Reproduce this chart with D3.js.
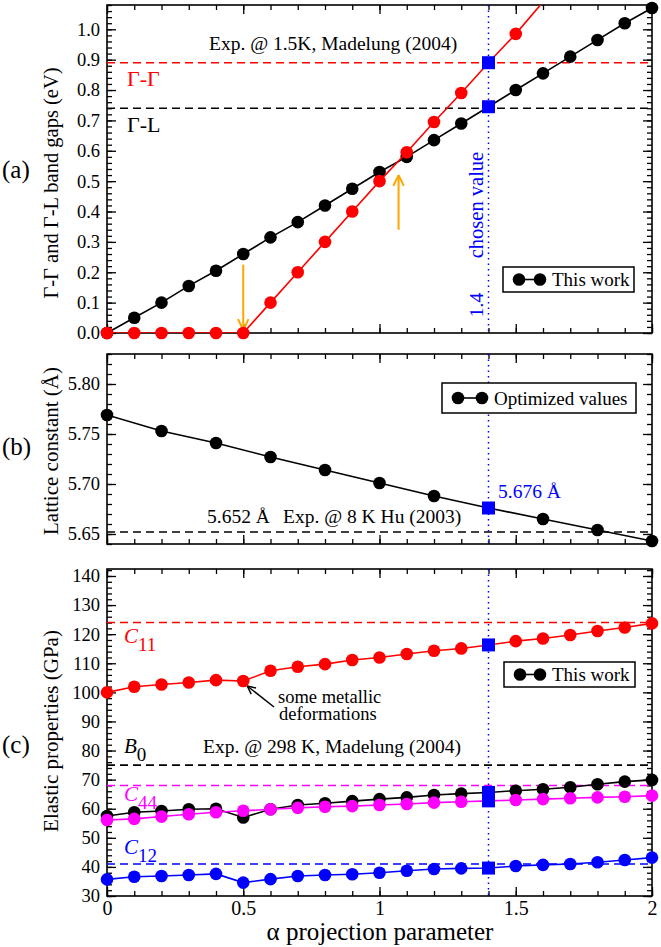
<!DOCTYPE html>
<html>
<head>
<meta charset="utf-8">
<script src="https://cdn.jsdelivr.net/npm/d3@7"></script>
<style>
  body { margin: 0; background: #fff; }
  svg { display: block; font-family: "Liberation Serif", "Times New Roman", serif; }
</style>
</head>
<body>
<svg id="chart" width="661" height="947"></svg>
<script>
// alpha grid shared by the three panels
const alpha = [0, 0.1, 0.2, 0.3, 0.4, 0.5, 0.6, 0.7, 0.8, 0.9, 1.0,
               1.1, 1.2, 1.3, 1.4, 1.5, 1.6, 1.7, 1.8, 1.9, 2.0];
const chosenAlpha = 1.4;

// (a) band gaps (eV)
const gapGL = [0.0, 0.05, 0.10, 0.155, 0.205, 0.26, 0.315, 0.365, 0.42, 0.475, 0.53,
               0.58, 0.635, 0.69, 0.745, 0.80, 0.855, 0.91, 0.965, 1.02, 1.07];
const gapGG = [0, 0, 0, 0, 0, 0, 0.10, 0.20, 0.30, 0.40, 0.50,
               0.595, 0.695, 0.79, 0.89, 0.985, 1.09];
const expGG = 0.89, expGL = 0.74;

// (b) lattice constant (Å)
const latAlpha = [0, 0.2, 0.4, 0.6, 0.8, 1.0, 1.2, 1.4, 1.6, 1.8, 2.0];
const lattice = [5.769, 5.753, 5.741, 5.727, 5.714, 5.701, 5.688, 5.676, 5.665, 5.654, 5.643];
const expLattice = 5.652;

// (c) elastic properties (GPa)
const c11 = [100.0, 101.9, 102.7, 103.4, 104.2, 103.9, 107.4, 108.8, 109.7, 111.1, 112.0,
             113.2, 114.3, 115.1, 116.3, 117.6, 118.5, 119.7, 121.1, 122.3, 123.7];
const b0  = [57.5, 58.8, 59.2, 59.8, 60.0, 57.0, 59.8, 61.3, 61.9, 62.6, 63.3,
             63.9, 64.7, 65.2, 65.6, 66.2, 66.7, 67.4, 68.4, 69.3, 69.9];
const c44 = [56.1, 56.5, 57.3, 58.1, 58.8, 59.3, 59.8, 60.3, 60.7, 60.9, 61.3,
             61.6, 62.1, 62.4, 62.7, 63.0, 63.3, 63.6, 63.9, 64.1, 64.5];
const c12 = [35.7, 36.6, 36.9, 37.2, 37.6, 34.6, 35.8, 36.9, 37.2, 37.5, 38.0,
             38.7, 39.3, 39.5, 39.6, 40.3, 40.7, 41.0, 41.6, 42.4, 43.2];
const expC11 = 124, expB0 = 75, expC44 = 68, expC12 = 41;

const xMajor = [0, 0.5, 1, 1.5, 2];
const xMinor = alpha;

const RED = "#ff0000", BLUE = "#0000ff", MAG = "#ff00ff", ORANGE = "#ffa500";

const svg = d3.select("#chart");
const x = d3.scaleLinear().domain([0, 2]).range([107, 652]);

const panels = [
  { id: "a", top: 5, bottom: 333, domain: [0, 1.08],
    major: [0, 0.1, 0.2, 0.3, 0.4, 0.5, 0.6, 0.7, 0.8, 0.9, 1.0], minorStep: 0.02, fmt: d3.format(".1f") },
  { id: "b", top: 354, bottom: 544, domain: [5.64, 5.83],
    major: [5.65, 5.70, 5.75, 5.80], minorStep: 0.01, fmt: d3.format(".2f") },
  { id: "c", top: 569, bottom: 896, domain: [30, 142.4],
    major: [30, 40, 50, 60, 70, 80, 90, 100, 110, 120, 130, 140], minorStep: 2, fmt: d3.format("d") }
];

function minorTicks(domain, step) {
  const out = [];
  const n = Math.floor((domain[1] - domain[0]) / step + 1e-6);
  const start = Math.ceil(domain[0] / step - 1e-6) * step;
  for (let i = 0; i <= n; i++) {
    const v = +(start + i * step).toFixed(4);
    if (v <= domain[1] + 1e-9) out.push(v);
  }
  return out;
}

function drawFrame(p, showXLabels) {
  const y = d3.scaleLinear().domain(p.domain).range([p.bottom, p.top]);
  p.y = y;
  const g = svg.append("g").attr("class", "frame-" + p.id);
  const minor = minorTicks(p.domain, p.minorStep);

  const styleAxis = sel => {
    sel.select(".domain").remove();
    sel.selectAll("line").attr("stroke", "#000").attr("stroke-width", 1.3);
    sel.selectAll("text").attr("font-family", "Liberation Serif, serif").attr("fill", "#000");
  };

  // left
  g.append("g").attr("transform", `translate(${x.range()[0]},0)`)
    .call(d3.axisLeft(y).tickValues(p.major).tickSize(-9).tickPadding(7).tickFormat(p.fmt))
    .call(styleAxis).selectAll("text").attr("font-size", 18.5);
  g.append("g").attr("transform", `translate(${x.range()[0]},0)`)
    .call(d3.axisLeft(y).tickValues(minor).tickSize(-5).tickFormat(""))
    .call(styleAxis);
  // right
  g.append("g").attr("transform", `translate(${x.range()[1]},0)`)
    .call(d3.axisRight(y).tickValues(p.major).tickSize(-9).tickFormat(""))
    .call(styleAxis);
  g.append("g").attr("transform", `translate(${x.range()[1]},0)`)
    .call(d3.axisRight(y).tickValues(minor).tickSize(-5).tickFormat(""))
    .call(styleAxis);
  // top
  g.append("g").attr("transform", `translate(0,${p.top})`)
    .call(d3.axisTop(x).tickValues(xMajor).tickSize(-9).tickFormat(""))
    .call(styleAxis);
  g.append("g").attr("transform", `translate(0,${p.top})`)
    .call(d3.axisTop(x).tickValues(xMinor).tickSize(-5).tickFormat(""))
    .call(styleAxis);
  // bottom
  g.append("g").attr("transform", `translate(0,${p.bottom})`)
    .call(d3.axisBottom(x).tickValues(xMajor).tickSize(-9).tickPadding(5)
      .tickFormat(showXLabels ? (d => String(d)) : ""))
    .call(styleAxis).selectAll("text").attr("font-size", 20);
  g.append("g").attr("transform", `translate(0,${p.bottom})`)
    .call(d3.axisBottom(x).tickValues(xMinor).tickSize(-5).tickFormat(""))
    .call(styleAxis);

  g.append("rect")
    .attr("x", x.range()[0]).attr("y", p.top)
    .attr("width", x.range()[1] - x.range()[0]).attr("height", p.bottom - p.top)
    .attr("fill", "none").attr("stroke", "#000").attr("stroke-width", 1.6);

  svg.append("clipPath").attr("id", "clip-" + p.id)
    .append("rect")
    .attr("x", x.range()[0]).attr("y", p.top)
    .attr("width", x.range()[1] - x.range()[0]).attr("height", p.bottom - p.top);
  return y;
}

function hline(p, value, color) {
  svg.append("line")
    .attr("x1", x.range()[0]).attr("x2", x.range()[1])
    .attr("y1", p.y(value)).attr("y2", p.y(value))
    .attr("stroke", color).attr("stroke-width", 1.6).attr("stroke-dasharray", "8,5");
}

function chosenLine(p) {
  svg.append("line")
    .attr("x1", x(chosenAlpha)).attr("x2", x(chosenAlpha))
    .attr("y1", p.top).attr("y2", p.bottom)
    .attr("stroke", BLUE).attr("stroke-width", 1.5).attr("stroke-dasharray", "1.5,4");
}

function series(p, xs, ys, color) {
  const pts = xs.map((a, i) => ({ a, v: ys[i] })).filter(d => d.v !== undefined);
  svg.append("path")
    .datum(pts)
    .attr("clip-path", `url(#clip-${p.id})`)
    .attr("fill", "none").attr("stroke", color).attr("stroke-width", 1.6)
    .attr("d", d3.line().x(d => x(d.a)).y(d => p.y(d.v)));
  svg.append("g").selectAll("circle")
    .data(pts.filter(d => d.v <= p.domain[1] && d.a !== chosenAlpha))
    .join("circle")
    .attr("cx", d => x(d.a)).attr("cy", d => p.y(d.v)).attr("r", 6.3)
    .attr("fill", color);
}

function chosenSquare(p, value) {
  const s = 13;
  svg.append("rect")
    .attr("x", x(chosenAlpha) - s / 2).attr("y", p.y(value) - s / 2)
    .attr("width", s).attr("height", s).attr("fill", BLUE);
}

function legend(x0, y0, w, h, label, gap) {
  const g = svg.append("g");
  g.append("rect").attr("x", x0).attr("y", y0).attr("width", w).attr("height", h)
    .attr("fill", "#fff").attr("stroke", "#000").attr("stroke-width", 1.5);
  const cy = y0 + h / 2;
  g.append("line").attr("x1", x0 + 16).attr("x2", x0 + 16 + gap).attr("y1", cy).attr("y2", cy)
    .attr("stroke", "#000").attr("stroke-width", 1.6);
  g.append("circle").attr("cx", x0 + 16).attr("cy", cy).attr("r", 6.3);
  g.append("circle").attr("cx", x0 + 16 + gap).attr("cy", cy).attr("r", 6.3);
  g.append("text").attr("x", x0 + gap + 28).attr("y", cy + 6.5).attr("font-size", 19).text(label);
}

function text(xp, yp, str, opts = {}) {
  const t = svg.append("text").attr("x", xp).attr("y", yp)
    .attr("font-size", opts.size || 19.5).attr("fill", opts.color || "#000")
    .attr("text-anchor", opts.anchor || "start");
  if (opts.rotate) t.attr("transform", `rotate(-90,${xp},${yp})`);
  t.text(str);
  return t;
}

function subLabel(xp, yp, main, sub, color) {
  const t = svg.append("text").attr("x", xp).attr("y", yp).attr("fill", color).attr("font-size", 21);
  t.append("tspan").attr("font-style", "italic").text(main);
  t.append("tspan").attr("dy", 8).attr("font-size", 19).text(sub);
}

function arrow(x1, y1, x2, y2, color, head, width) {
  const g = svg.append("g").attr("stroke", color).attr("stroke-width", width).attr("fill", "none");
  g.append("line").attr("x1", x1).attr("y1", y1).attr("x2", x2).attr("y2", y2);
  const ang = Math.atan2(y2 - y1, x2 - x1);
  [-0.45, 0.45].forEach(da => {
    g.append("line").attr("x1", x2).attr("y1", y2)
      .attr("x2", x2 - head * Math.cos(ang + da)).attr("y2", y2 - head * Math.sin(ang + da));
  });
}

// ---------- panel (a)
const pa = panels[0];
drawFrame(pa, false);
hline(pa, expGG, RED);
hline(pa, expGL, "#000");
chosenLine(pa);
text(209, 50, "Exp. @ 1.5K, Madelung (2004)");
text(127, 86, "Γ-Γ", { size: 22, color: RED });
text(127, 132, "Γ-L", { size: 22 });
text(483, 205, "chosen value", { size: 20.5, color: BLUE, rotate: true, anchor: "middle" });
text(483, 305, "1.4", { size: 19.5, color: BLUE, rotate: true, anchor: "middle" });
arrow(x(0.5), pa.y(0.225), x(0.5), pa.y(0.01), ORANGE, 12, 2);
arrow(x(1.07), pa.y(0.34), x(1.07), pa.y(0.52), ORANGE, 12, 2);
series(pa, alpha, gapGL, "#000");
series(pa, alpha, gapGG, RED);
chosenSquare(pa, gapGG[alpha.indexOf(chosenAlpha)]);
chosenSquare(pa, gapGL[alpha.indexOf(chosenAlpha)]);
legend(503, 267, 131, 25, "This work", 21);

// ---------- panel (b)
const pb = panels[1];
drawFrame(pb, false);
hline(pb, expLattice, "#000");
chosenLine(pb);
text(207, 523, "5.652 Å");
text(283, 523, "Exp. @ 8 K Hu (2003)");
series(pb, latAlpha, lattice, "#000");
chosenSquare(pb, lattice[latAlpha.indexOf(chosenAlpha)]);
text(498, 498, "5.676 Å", { size: 19.5, color: BLUE });
legend(442, 383, 194, 30, "Optimized values", 24);

// ---------- panel (c)
const pc = panels[2];
drawFrame(pc, true);
hline(pc, expC11, RED);
hline(pc, expB0, "#000");
hline(pc, expC44, MAG);
hline(pc, expC12, BLUE);
chosenLine(pc);
text(203, 753, "Exp. @ 298 K, Madelung (2004)");
text(278, 703, "some metallic", { size: 18.5 });
text(279, 720, "deformations", { size: 18.5 });
arrow(274, 707, x(0.5) + 4, pc.y(c11[5]) + 5, "#000", 9, 1.5);
series(pc, alpha, c11, RED);
series(pc, alpha, b0, "#000");
series(pc, alpha, c44, MAG);
series(pc, alpha, c12, BLUE);
const iC = alpha.indexOf(chosenAlpha);
[c11, b0, c44, c12].forEach(s => chosenSquare(pc, s[iC]));
subLabel(124, 643, "C", "11", RED);
subLabel(124, 753, "B", "0", "#000");
subLabel(124, 801, "C", "44", MAG);
subLabel(124, 854, "C", "12", BLUE);
legend(504, 662, 131, 25, "This work", 20);

// ---------- panel letters and axis titles
text(2, 178, "(a)", { size: 25 });
text(2, 455, "(b)", { size: 25 });
text(2, 753, "(c)", { size: 25 });
text(58, 183, "Γ-Γ and Γ-L band gaps (eV)", { size: 20.5, rotate: true, anchor: "middle" });
text(58, 451, "Lattice constant (Å)", { size: 21, rotate: true, anchor: "middle" });
text(58, 731, "Elastic properties (GPa)", { size: 21, rotate: true, anchor: "middle" });
text(380, 940, "α projection parameter", { size: 25, anchor: "middle" });
</script>
</body>
</html>
